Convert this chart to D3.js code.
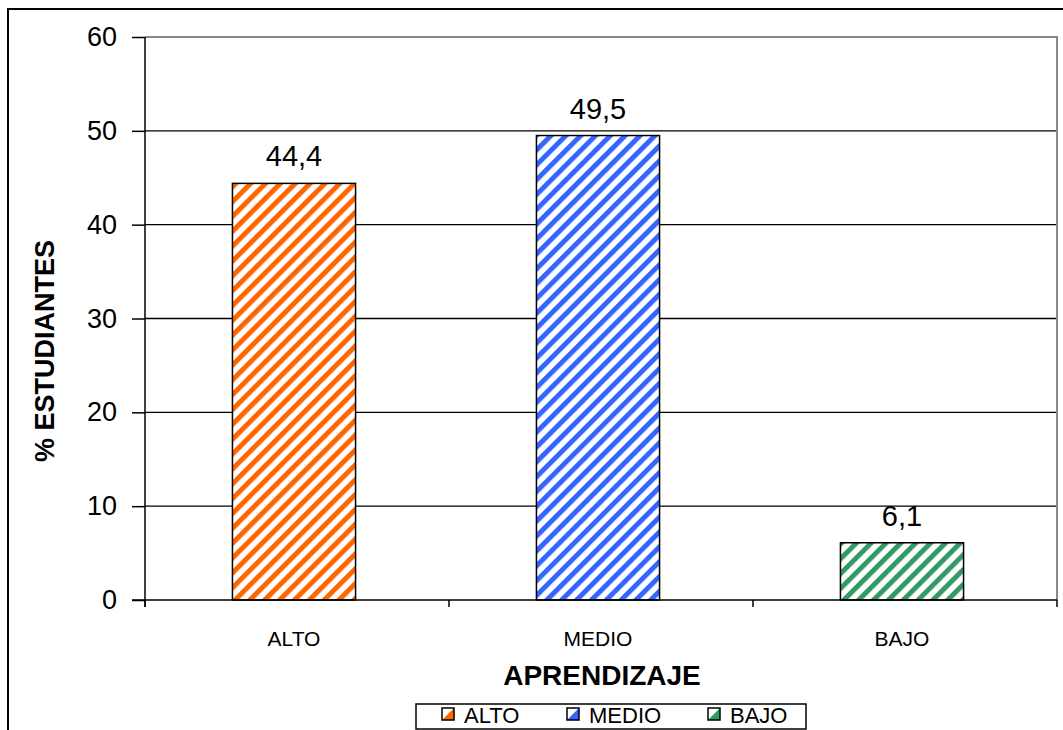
<!DOCTYPE html>
<html>
<head>
<meta charset="utf-8">
<script src="https://cdn.jsdelivr.net/npm/d3@7"></script>
<style>
  html, body { margin: 0; padding: 0; background: #fff; }
  svg { display: block; font-family: "Liberation Sans", Arial, sans-serif; }
</style>
</head>
<body>
<svg id="chart" width="1063" height="730"></svg>
<script>
// Learning level distribution (% of students)
const categories = ["ALTO", "MEDIO", "BAJO"];
const values = [44.4, 49.5, 6.1];
const valueLabels = ["44,4", "49,5", "6,1"];
const colors = ["#ff6600", "#3366ff", "#339966"];
const yTicks = [0, 10, 20, 30, 40, 50, 60];

const svg = d3.select("#chart");
const W = 1063, H = 730;
const plot = { left: 145, right: 1057, top: 37, bottom: 600 };
const FONT = "Liberation Sans, Arial, sans-serif";

// Outer chart frame (extends past the right/bottom edges)
svg.append("rect")
  .attr("x", 8).attr("y", 9)
  .attr("width", W + 20).attr("height", H + 20)
  .attr("fill", "#fff").attr("stroke", "#000").attr("stroke-width", 2);

// Diagonal hatch patterns, one per series
const defs = svg.append("defs");
colors.forEach((c, i) => {
  const p = defs.append("pattern")
    .attr("id", "hatch" + i)
    .attr("patternUnits", "userSpaceOnUse")
    .attr("width", 10.5).attr("height", 10.5)
    .attr("patternTransform", "rotate(45)");
  p.append("rect").attr("width", 10.5).attr("height", 10.5).attr("fill", "#fff");
  p.append("rect").attr("x", 0).attr("width", 5).attr("height", 10.5).attr("fill", c);
});

const x = d3.scaleBand().domain(categories).range([plot.left, plot.right]).paddingInner(0).paddingOuter(0);
const y = d3.scaleLinear().domain([0, 60]).range([plot.bottom, plot.top]);

// Gridlines
svg.append("g").selectAll("line")
  .data(yTicks.filter(t => t > 0 && t < 60))
  .join("line")
  .attr("x1", plot.left).attr("x2", plot.right)
  .attr("y1", d => y(d)).attr("y2", d => y(d))
  .attr("stroke", "#000").attr("stroke-width", 1.3);

// Plot area border (top and right in gray)
svg.append("path")
  .attr("d", `M${plot.left},${plot.top}H${plot.right}V${plot.bottom}`)
  .attr("fill", "none").attr("stroke", "#888").attr("stroke-width", 2);

// Bars
const barW = x.bandwidth() * 0.405;
const cx = c => x(c) + x.bandwidth() / 2 - 3;
svg.append("g").selectAll("rect")
  .data(values)
  .join("rect")
  .attr("x", (d, i) => cx(categories[i]) - barW / 2)
  .attr("y", d => y(d))
  .attr("width", barW)
  .attr("height", d => y(0) - y(d))
  .attr("fill", (d, i) => `url(#hatch${i})`)
  .attr("stroke", "#000").attr("stroke-width", 1.5);

// Value labels
svg.append("g").selectAll("text")
  .data(values)
  .join("text")
  .attr("x", (d, i) => cx(categories[i]))
  .attr("y", d => y(d) - 17)
  .attr("text-anchor", "middle")
  .attr("font-size", 29)
  .text((d, i) => valueLabels[i]);

// Y axis
const yAxis = d3.axisLeft(y).tickValues(yTicks).tickSize(13).tickPadding(15).tickFormat(d3.format("d"));
const gy = svg.append("g").attr("transform", `translate(${plot.left},0)`).call(yAxis);
gy.select(".domain").remove();
gy.selectAll(".tick line").attr("stroke", "#000").attr("stroke-width", 1.5);
gy.selectAll(".tick text").attr("font-size", 27).attr("fill", "#000").attr("font-family", FONT);
svg.append("line")
  .attr("x1", plot.left).attr("x2", plot.left)
  .attr("y1", plot.top).attr("y2", plot.bottom + 7)
  .attr("stroke", "#000").attr("stroke-width", 1.5);

// X axis: baseline, ticks at category boundaries, labels
svg.append("line")
  .attr("x1", plot.left - 13).attr("x2", plot.right)
  .attr("y1", plot.bottom).attr("y2", plot.bottom)
  .attr("stroke", "#000").attr("stroke-width", 1.5);
const bounds = categories.map(c => x(c)).concat([plot.right]);
svg.append("g").selectAll("line")
  .data(bounds)
  .join("line")
  .attr("x1", d => d).attr("x2", d => d)
  .attr("y1", plot.bottom).attr("y2", plot.bottom + 7)
  .attr("stroke", "#000").attr("stroke-width", 1.5);
svg.append("g").selectAll("text")
  .data(categories)
  .join("text")
  .attr("x", d => cx(d))
  .attr("y", 646)
  .attr("text-anchor", "middle")
  .attr("font-size", 21)
  .text(d => d);

// Axis titles
svg.append("text")
  .attr("x", 602).attr("y", 685)
  .attr("text-anchor", "middle")
  .attr("font-size", 28).attr("font-weight", "bold")
  .text("APRENDIZAJE");
svg.append("text")
  .attr("transform", "translate(54,351) rotate(-90)")
  .attr("text-anchor", "middle")
  .attr("font-size", 27).attr("font-weight", "bold")
  .text("% ESTUDIANTES");

// Legend
const lg = svg.append("g");
lg.append("rect")
  .attr("x", 416).attr("y", 704).attr("width", 390).attr("height", 25)
  .attr("fill", "#fff").attr("stroke", "#000").attr("stroke-width", 1.5);
const legendX = [442, 567, 708];
const item = lg.selectAll("g.item")
  .data(categories)
  .join("g")
  .attr("class", "item")
  .attr("transform", (d, i) => `translate(${legendX[i]},708)`);
item.append("rect")
  .attr("width", 12).attr("height", 12)
  .attr("fill", "#fff");
item.append("path")
  .attr("d", "M12,0L12,12L0,12Z")
  .attr("fill", (d, i) => colors[i]);
item.append("rect")
  .attr("width", 12).attr("height", 12)
  .attr("fill", "none").attr("stroke", "#000").attr("stroke-width", 1.5);
item.append("text")
  .attr("x", 22).attr("y", 14.5)
  .attr("font-size", 22)
  .text(d => d);
</script>
</body>
</html>
